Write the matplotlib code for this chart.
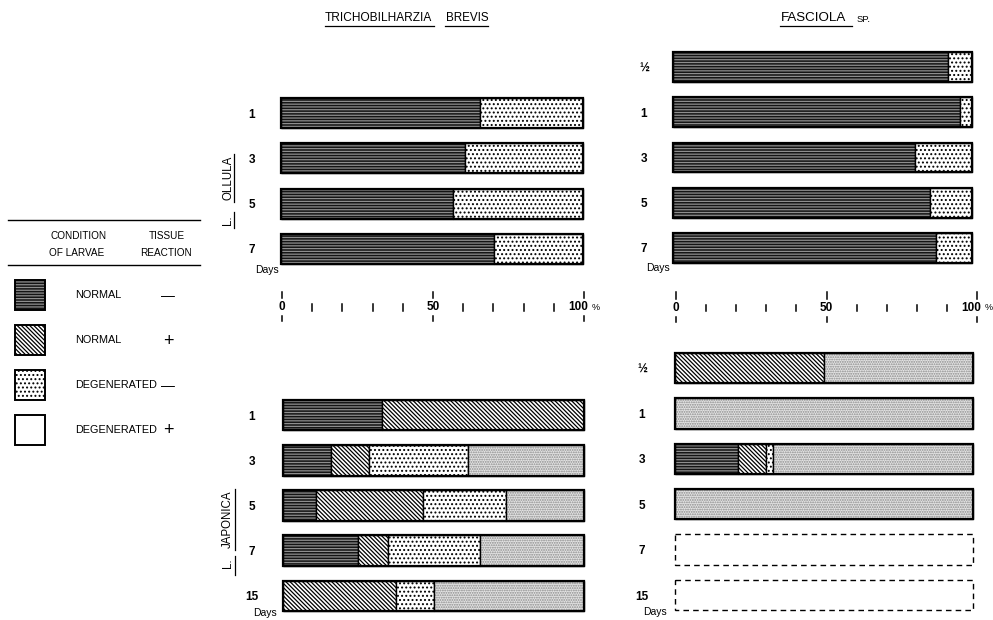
import numpy as np
import matplotlib
matplotlib.use("Agg")
import matplotlib.pyplot as plt
from matplotlib.lines import Line2D
from matplotlib.patches import Rectangle

plt.rcParams['font.family'] = ['Liberation Sans', 'DejaVu Sans']
plt.rcParams['hatch.linewidth'] = 0.9

# ---------------- data (percent of larvae) ----------------
days_ollula_tb = ['1', '3', '5', '7']
ollula_tb_normal_neg = [66, 61, 57, 70.5]
ollula_tb_normal_pos = [0, 0, 0, 0]
ollula_tb_degen_neg = [34, 39, 43, 29.5]
ollula_tb_degen_pos = [0, 0, 0, 0]

days_ollula_fs = ['½', '1', '3', '5', '7']
ollula_fs_normal_neg = [92, 96, 81, 86, 88]
ollula_fs_normal_pos = [0, 0, 0, 0, 0]
ollula_fs_degen_neg = [8, 4, 19, 14, 12]
ollula_fs_degen_pos = [0, 0, 0, 0, 0]

days_japonica_tb = ['1', '3', '5', '7', '15']
japonica_tb_normal_neg = [33, 16, 11, 25, 0]
japonica_tb_normal_pos = [67, 12.5, 35.5, 10, 37.5]
japonica_tb_degen_neg = [0, 33, 27.5, 30.5, 12.5]
japonica_tb_degen_pos = [0, 38.5, 26, 34.5, 50]

days_japonica_fs = ['½', '1', '3', '5', '7', '15']
japonica_fs_normal_neg = [0, 0, 21, 0, 0, 0]
japonica_fs_normal_pos = [50, 0, 9.5, 0, 0, 0]
japonica_fs_degen_neg = [0, 0, 2.5, 0, 0, 0]
japonica_fs_degen_pos = [50, 100, 67, 100, 0, 0]

category_names = ['NORMAL', 'NORMAL', 'DEGENERATED', 'DEGENERATED']
reaction_signs = ['—', '+', '—', '+']
major_ticks = [0, 50, 100]
minor_ticks = [10, 20, 30, 40, 60, 70, 80, 90]

# ---------------- styles ----------------
STYLES = [
    dict(face='#141414', hatchcol='#8e8e8e', hatch='------'),        # normal, -
    dict(face='white', hatchcol='black', hatch='\\' * 8),             # normal, +
    dict(face='white', hatchcol='black', hatch='....'),              # degenerated, -
    dict(face='#e4e4e4', hatchcol='#8a8a8a', hatch='.......'),       # degenerated, +
]

W, H = 993, 620
fig = plt.figure(figsize=(W / 100, H / 100), dpi=100)


def px_axes(x0, x1, y0, y1):
    return fig.add_axes([x0 / W, 1 - y1 / H, (x1 - x0) / W, (y1 - y0) / H])


def panel(x0, x1, yc_first, spacing, labels, series, bar_h, label_pad_px):
    n = len(labels)
    ax = px_axes(x0, x1, yc_first - spacing / 2, yc_first + spacing * (n - 0.5))
    ax.set_xlim(0, 100)
    ax.set_ylim(n - 0.5, -0.5)
    y = np.arange(n)
    left = np.zeros(n)
    for vals, st in zip(series, STYLES):
        vals = np.asarray(vals, dtype=float)
        m = vals > 0
        if m.any():
            ax.barh(y[m], vals[m], left=left[m], height=bar_h, color=st['face'],
                    edgecolor=st['hatchcol'], hatch=st['hatch'], linewidth=0,
                    clip_on=False)
            ax.barh(y[m], vals[m], left=left[m], height=bar_h, fill=False,
                    edgecolor='black', linewidth=1.0, clip_on=False)
        left = left + vals
    tot = left
    full = tot > 0
    ax.barh(y[full], tot[full], height=bar_h, fill=False, edgecolor='black',
            linewidth=1.6, clip_on=False)
    empty = ~full
    if empty.any():
        ax.barh(y[empty], np.full(empty.sum(), 100.0), height=bar_h, fill=False,
                edgecolor='black', linewidth=1.0, linestyle=(0, (4, 3)),
                clip_on=False)
    ax.set_yticks(y, labels)
    ax.tick_params(axis='y', length=0, pad=label_pad_px * 0.72, labelsize=8.5)
    for t in ax.get_yticklabels():
        t.set_ha('center')
        t.set_fontweight('bold')
    ax.set_xticks([])
    for s in ax.spines.values():
        s.set_visible(False)
    ax.patch.set_visible(False)
    return ax


def ruler(x0, x1, y0, y1):
    ax = px_axes(x0, x1, y0, y1)
    ax.set_xlim(0, 100)
    ax.set_ylim(0, 1)
    ax.axis('off')
    for t in major_ticks:
        ax.plot([t, t], [0.78, 1.0], color='black', lw=1.1, clip_on=False)
        ax.plot([t, t], [0.0, 0.16], color='black', lw=1.1, clip_on=False)
        shift = -2.0 if t == 100 else 0.0
        ax.text(t + shift, 0.47, f"{t}", ha='center', va='center',
                fontsize=8.5, fontweight='bold')
    ax.text(100 + 2.6, 0.47, '%', ha='left', va='center', fontsize=6.5)
    for t in minor_ticks:
        ax.plot([t, t], [0.36, 0.58], color='black', lw=1.1, clip_on=False)
    return ax


# panels
panel(281, 583, 113, 45.3, days_ollula_tb,
      [ollula_tb_normal_neg, ollula_tb_normal_pos, ollula_tb_degen_neg,
       ollula_tb_degen_pos], 0.66, 29)
panel(673, 972, 67, 45.25, days_ollula_fs,
      [ollula_fs_normal_neg, ollula_fs_normal_pos, ollula_fs_degen_neg,
       ollula_fs_degen_pos], 0.66, 29)
panel(283, 584, 415, 45.25, days_japonica_tb,
      [japonica_tb_normal_neg, japonica_tb_normal_pos, japonica_tb_degen_neg,
       japonica_tb_degen_pos], 0.68, 31)
panel(675, 973, 368, 45.4, days_japonica_fs,
      [japonica_fs_normal_neg, japonica_fs_normal_pos, japonica_fs_degen_neg,
       japonica_fs_degen_pos], 0.67, 33)

ruler(282, 584, 292, 321)
ruler(676, 977, 292, 322)

# "Days" labels
for (x, y) in [(267, 270), (658, 268), (265, 613), (655, 612)]:
    fig.text(x / W, 1 - y / H, 'Days', ha='center', va='center', fontsize=7.5)


def fline(x0, y0, x1, y1, lw=0.9, color='black'):
    fig.add_artist(Line2D([x0 / W, x1 / W], [1 - y0 / H, 1 - y1 / H],
                          color=color, lw=lw))


# titles
fig.text(325 / W, 1 - 18 / H, 'TRICHOBILHARZIA', ha='left', va='center',
         fontsize=8.6)
fig.text(446 / W, 1 - 18 / H, 'BREVIS', ha='left', va='center', fontsize=8.4)
fline(325, 26, 434, 26)
fline(445, 26, 488, 26)
fig.text(781 / W, 1 - 18 / H, 'FASCIOLA', ha='left', va='center', fontsize=9.6)
fig.text(857 / W, 1 - 19 / H, 'SP.', ha='left', va='center', fontsize=6.8)
fline(780, 26, 852, 26)

# side labels
fig.text(228 / W, 1 - 178 / H, 'OLLULA', rotation=90, ha='center', va='center',
         fontsize=8.3)
fig.text(228 / W, 1 - 220 / H, 'L.', rotation=90, ha='center', va='center',
         fontsize=8.3)
fline(234, 154, 234, 202)
fline(234, 212, 234, 228)
fig.text(228 / W, 1 - 519 / H, 'JAPONICA', rotation=90, ha='center',
         va='center', fontsize=8.3)
fig.text(228 / W, 1 - 563 / H, 'L.', rotation=90, ha='center', va='center',
         fontsize=8.3)
fline(235, 489, 235, 550)
fline(235, 556, 235, 575)

# legend
fline(8, 220, 200, 220, lw=1.0)
fline(8, 265, 200, 265, lw=1.0)
fig.text(79 / W, 1 - 236 / H, 'CONDITION', ha='center', va='center', fontsize=7.2)
fig.text(77 / W, 1 - 253 / H, 'OF LARVAE', ha='center', va='center', fontsize=7.2)
fig.text(167 / W, 1 - 236 / H, 'TISSUE', ha='center', va='center', fontsize=7.2)
fig.text(166 / W, 1 - 253 / H, 'REACTION', ha='center', va='center', fontsize=7.2)

leg_ax = px_axes(0, 210, 270, 460)
leg_ax.set_xlim(0, 210)
leg_ax.set_ylim(460, 270)
leg_ax.axis('off')
leg_tops = [280, 325, 370, 415]
for i, (name, sign, st) in enumerate(zip(category_names, reaction_signs, STYLES)):
    top = leg_tops[i]
    face = 'white' if i == 3 else st['face']
    hatch = None if i == 3 else st['hatch']
    leg_ax.add_patch(Rectangle((15, top), 30, 30, facecolor=face,
                               edgecolor=st['hatchcol'], hatch=hatch,
                               linewidth=0))
    leg_ax.add_patch(Rectangle((15, top), 30, 30, fill=False,
                               edgecolor='black', linewidth=1.4))
    leg_ax.text(75, top + 15, name, ha='left', va='center', fontsize=7.8)
    leg_ax.text(168, top + 16, sign, ha='center', va='center',
                fontsize=10 if sign == '—' else 13)

fig.savefig('out.png', dpi=100)
